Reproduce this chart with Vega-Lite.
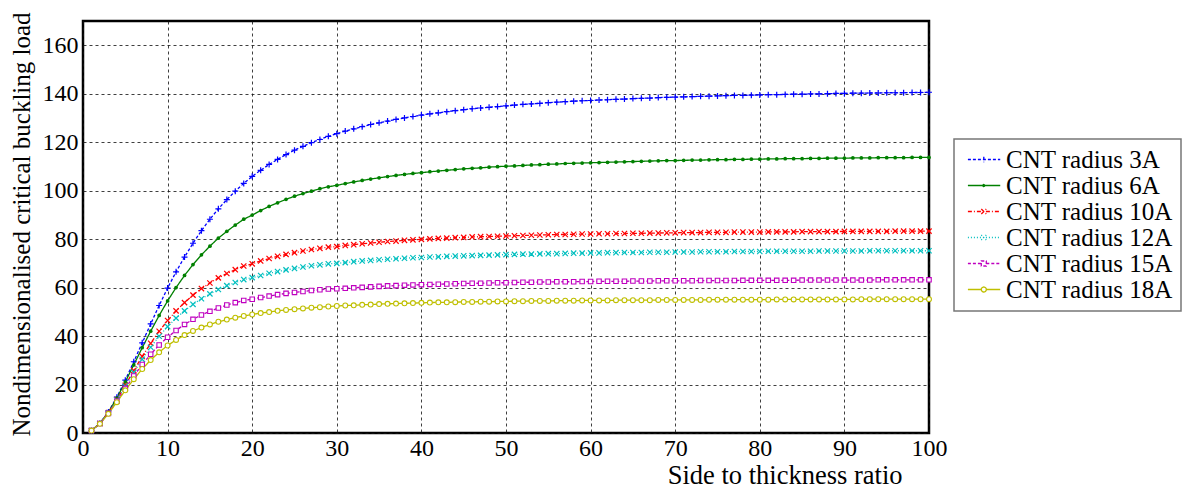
{
"$schema": "https://vega.github.io/schema/vega-lite/v6.json",
"width": 846,
"height": 412,
"autosize": {"type": "none"},
"padding": {"left": 83, "top": 21, "right": 264, "bottom": 57},
"background": "white",
"config": {
  "font": "Liberation Serif",
  "view": {"stroke": "#000", "strokeWidth": 2.5},
  "axis": {"domain": false, "ticks": false, "grid": true, "gridColor": "#111", "gridDash": [3, 3], "gridWidth": 0.9, "gridOpacity": 0.9, "labelFontSize": 24, "labelColor": "#000", "labelFont": "Liberation Serif", "labelFlush": false, "labelOverlap": false, "titleFontSize": 25, "titleColor": "#000", "titleFontWeight": "normal", "titleFont": "Liberation Serif"},
  "axisX": {"labelPadding": 3, "titleFontSize": 26.5},
  "axisY": {"labelPadding": 5},
  "legend": {"strokeColor": "#777", "strokeWidth": 1.5, "fillColor": "white", "padding": 8, "labelFontSize": 25, "labelFont": "Liberation Serif", "labelColor": "#000", "symbolSize": 174, "symbolStrokeWidth": 1.3, "rowPadding": 0, "labelOffset": 19, "symbolOpacity": 1, "labelLimit": 400}
},
"data": {"values": [
{"s":"3A","x":1,"y":1.0},{"s":"3A","x":2,"y":4.0},{"s":"3A","x":3,"y":8.7},{"s":"3A","x":4,"y":14.8},{"s":"3A","x":5,"y":21.8},{"s":"3A","x":6,"y":29.4},{"s":"3A","x":7,"y":37.2},{"s":"3A","x":8,"y":45.0},{"s":"3A","x":9,"y":52.6},{"s":"3A","x":10,"y":59.8},
{"s":"3A","x":11,"y":66.5},{"s":"3A","x":12,"y":72.6},{"s":"3A","x":13,"y":78.3},{"s":"3A","x":14,"y":83.5},{"s":"3A","x":15,"y":88.2},{"s":"3A","x":16,"y":92.5},{"s":"3A","x":17,"y":96.3},{"s":"3A","x":18,"y":99.8},{"s":"3A","x":19,"y":103.0},{"s":"3A","x":20,"y":105.9},
{"s":"3A","x":21,"y":108.4},{"s":"3A","x":22,"y":110.8},{"s":"3A","x":23,"y":112.9},{"s":"3A","x":24,"y":114.9},{"s":"3A","x":25,"y":116.7},{"s":"3A","x":26,"y":118.3},{"s":"3A","x":27,"y":119.8},{"s":"3A","x":28,"y":121.1},{"s":"3A","x":29,"y":122.4},{"s":"3A","x":30,"y":123.5},
{"s":"3A","x":31,"y":124.6},{"s":"3A","x":32,"y":125.5},{"s":"3A","x":33,"y":126.4},{"s":"3A","x":34,"y":127.3},{"s":"3A","x":35,"y":128.0},{"s":"3A","x":36,"y":128.7},{"s":"3A","x":37,"y":129.4},{"s":"3A","x":38,"y":130.0},{"s":"3A","x":39,"y":130.6},{"s":"3A","x":40,"y":131.2},
{"s":"3A","x":41,"y":131.7},{"s":"3A","x":42,"y":132.1},{"s":"3A","x":43,"y":132.6},{"s":"3A","x":44,"y":133.0},{"s":"3A","x":45,"y":133.4},{"s":"3A","x":46,"y":133.8},{"s":"3A","x":47,"y":134.1},{"s":"3A","x":48,"y":134.4},{"s":"3A","x":49,"y":134.7},{"s":"3A","x":50,"y":135.0},
{"s":"3A","x":51,"y":135.3},{"s":"3A","x":52,"y":135.6},{"s":"3A","x":53,"y":135.8},{"s":"3A","x":54,"y":136.0},{"s":"3A","x":55,"y":136.3},{"s":"3A","x":56,"y":136.5},{"s":"3A","x":57,"y":136.7},{"s":"3A","x":58,"y":136.9},{"s":"3A","x":59,"y":137.1},{"s":"3A","x":60,"y":137.2},
{"s":"3A","x":61,"y":137.4},{"s":"3A","x":62,"y":137.5},{"s":"3A","x":63,"y":137.7},{"s":"3A","x":64,"y":137.8},{"s":"3A","x":65,"y":138.0},{"s":"3A","x":66,"y":138.1},{"s":"3A","x":67,"y":138.2},{"s":"3A","x":68,"y":138.4},{"s":"3A","x":69,"y":138.5},{"s":"3A","x":70,"y":138.6},
{"s":"3A","x":71,"y":138.7},{"s":"3A","x":72,"y":138.8},{"s":"3A","x":73,"y":138.9},{"s":"3A","x":74,"y":139.0},{"s":"3A","x":75,"y":139.1},{"s":"3A","x":76,"y":139.2},{"s":"3A","x":77,"y":139.3},{"s":"3A","x":78,"y":139.3},{"s":"3A","x":79,"y":139.4},{"s":"3A","x":80,"y":139.5},
{"s":"3A","x":81,"y":139.6},{"s":"3A","x":82,"y":139.6},{"s":"3A","x":83,"y":139.7},{"s":"3A","x":84,"y":139.8},{"s":"3A","x":85,"y":139.8},{"s":"3A","x":86,"y":139.9},{"s":"3A","x":87,"y":139.9},{"s":"3A","x":88,"y":140.0},{"s":"3A","x":89,"y":140.1},{"s":"3A","x":90,"y":140.1},
{"s":"3A","x":91,"y":140.2},{"s":"3A","x":92,"y":140.2},{"s":"3A","x":93,"y":140.3},{"s":"3A","x":94,"y":140.3},{"s":"3A","x":95,"y":140.4},{"s":"3A","x":96,"y":140.4},{"s":"3A","x":97,"y":140.4},{"s":"3A","x":98,"y":140.5},{"s":"3A","x":99,"y":140.5},{"s":"3A","x":100,"y":140.6},
{"s":"6A","x":1,"y":1.0},{"s":"6A","x":2,"y":4.0},{"s":"6A","x":3,"y":8.6},{"s":"6A","x":4,"y":14.4},{"s":"6A","x":5,"y":21.1},{"s":"6A","x":6,"y":28.1},{"s":"6A","x":7,"y":35.2},{"s":"6A","x":8,"y":42.0},{"s":"6A","x":9,"y":48.5},{"s":"6A","x":10,"y":54.5},
{"s":"6A","x":11,"y":60.0},{"s":"6A","x":12,"y":65.0},{"s":"6A","x":13,"y":69.5},{"s":"6A","x":14,"y":73.5},{"s":"6A","x":15,"y":77.1},{"s":"6A","x":16,"y":80.4},{"s":"6A","x":17,"y":83.2},{"s":"6A","x":18,"y":85.8},{"s":"6A","x":19,"y":88.2},{"s":"6A","x":20,"y":89.9},
{"s":"6A","x":21,"y":91.8},{"s":"6A","x":22,"y":93.5},{"s":"6A","x":23,"y":95.0},{"s":"6A","x":24,"y":96.4},{"s":"6A","x":25,"y":97.7},{"s":"6A","x":26,"y":98.8},{"s":"6A","x":27,"y":99.8},{"s":"6A","x":28,"y":100.8},{"s":"6A","x":29,"y":101.6},{"s":"6A","x":30,"y":102.2},
{"s":"6A","x":31,"y":102.9},{"s":"6A","x":32,"y":103.6},{"s":"6A","x":33,"y":104.2},{"s":"6A","x":34,"y":104.8},{"s":"6A","x":35,"y":105.3},{"s":"6A","x":36,"y":105.8},{"s":"6A","x":37,"y":106.3},{"s":"6A","x":38,"y":106.7},{"s":"6A","x":39,"y":107.1},{"s":"6A","x":40,"y":107.4},
{"s":"6A","x":41,"y":107.8},{"s":"6A","x":42,"y":108.1},{"s":"6A","x":43,"y":108.4},{"s":"6A","x":44,"y":108.7},{"s":"6A","x":45,"y":109.0},{"s":"6A","x":46,"y":109.2},{"s":"6A","x":47,"y":109.4},{"s":"6A","x":48,"y":109.7},{"s":"6A","x":49,"y":109.9},{"s":"6A","x":50,"y":110.1},
{"s":"6A","x":51,"y":110.2},{"s":"6A","x":52,"y":110.4},{"s":"6A","x":53,"y":110.6},{"s":"6A","x":54,"y":110.7},{"s":"6A","x":55,"y":110.9},{"s":"6A","x":56,"y":111.0},{"s":"6A","x":57,"y":111.2},{"s":"6A","x":58,"y":111.3},{"s":"6A","x":59,"y":111.4},{"s":"6A","x":60,"y":111.5},
{"s":"6A","x":61,"y":111.6},{"s":"6A","x":62,"y":111.7},{"s":"6A","x":63,"y":111.8},{"s":"6A","x":64,"y":111.9},{"s":"6A","x":65,"y":112.0},{"s":"6A","x":66,"y":112.1},{"s":"6A","x":67,"y":112.2},{"s":"6A","x":68,"y":112.3},{"s":"6A","x":69,"y":112.4},{"s":"6A","x":70,"y":112.4},
{"s":"6A","x":71,"y":112.5},{"s":"6A","x":72,"y":112.6},{"s":"6A","x":73,"y":112.6},{"s":"6A","x":74,"y":112.7},{"s":"6A","x":75,"y":112.8},{"s":"6A","x":76,"y":112.8},{"s":"6A","x":77,"y":112.9},{"s":"6A","x":78,"y":112.9},{"s":"6A","x":79,"y":113.0},{"s":"6A","x":80,"y":113.0},
{"s":"6A","x":81,"y":113.1},{"s":"6A","x":82,"y":113.1},{"s":"6A","x":83,"y":113.2},{"s":"6A","x":84,"y":113.2},{"s":"6A","x":85,"y":113.2},{"s":"6A","x":86,"y":113.3},{"s":"6A","x":87,"y":113.3},{"s":"6A","x":88,"y":113.4},{"s":"6A","x":89,"y":113.4},{"s":"6A","x":90,"y":113.4},
{"s":"6A","x":91,"y":113.5},{"s":"6A","x":92,"y":113.5},{"s":"6A","x":93,"y":113.5},{"s":"6A","x":94,"y":113.6},{"s":"6A","x":95,"y":113.6},{"s":"6A","x":96,"y":113.6},{"s":"6A","x":97,"y":113.6},{"s":"6A","x":98,"y":113.7},{"s":"6A","x":99,"y":113.7},{"s":"6A","x":100,"y":113.7},
{"s":"10A","x":1,"y":1.0},{"s":"10A","x":2,"y":3.9},{"s":"10A","x":3,"y":8.4},{"s":"10A","x":4,"y":13.8},{"s":"10A","x":5,"y":19.7},{"s":"10A","x":6,"y":25.8},{"s":"10A","x":7,"y":31.6},{"s":"10A","x":8,"y":37.0},{"s":"10A","x":9,"y":42.0},{"s":"10A","x":10,"y":46.4},
{"s":"10A","x":11,"y":50.4},{"s":"10A","x":12,"y":53.8},{"s":"10A","x":13,"y":56.9},{"s":"10A","x":14,"y":59.6},{"s":"10A","x":15,"y":61.9},{"s":"10A","x":16,"y":64.0},{"s":"10A","x":17,"y":65.8},{"s":"10A","x":18,"y":67.4},{"s":"10A","x":19,"y":68.9},{"s":"10A","x":20,"y":69.8},
{"s":"10A","x":21,"y":71.0},{"s":"10A","x":22,"y":72.0},{"s":"10A","x":23,"y":72.9},{"s":"10A","x":24,"y":73.7},{"s":"10A","x":25,"y":74.4},{"s":"10A","x":26,"y":75.1},{"s":"10A","x":27,"y":75.7},{"s":"10A","x":28,"y":76.2},{"s":"10A","x":29,"y":76.7},{"s":"10A","x":30,"y":76.9},
{"s":"10A","x":31,"y":77.4},{"s":"10A","x":32,"y":77.7},{"s":"10A","x":33,"y":78.1},{"s":"10A","x":34,"y":78.4},{"s":"10A","x":35,"y":78.7},{"s":"10A","x":36,"y":79.0},{"s":"10A","x":37,"y":79.2},{"s":"10A","x":38,"y":79.5},{"s":"10A","x":39,"y":79.7},{"s":"10A","x":40,"y":79.9},
{"s":"10A","x":41,"y":80.1},{"s":"10A","x":42,"y":80.3},{"s":"10A","x":43,"y":80.4},{"s":"10A","x":44,"y":80.6},{"s":"10A","x":45,"y":80.7},{"s":"10A","x":46,"y":80.9},{"s":"10A","x":47,"y":81.0},{"s":"10A","x":48,"y":81.1},{"s":"10A","x":49,"y":81.2},{"s":"10A","x":50,"y":81.3},
{"s":"10A","x":51,"y":81.4},{"s":"10A","x":52,"y":81.5},{"s":"10A","x":53,"y":81.6},{"s":"10A","x":54,"y":81.7},{"s":"10A","x":55,"y":81.8},{"s":"10A","x":56,"y":81.9},{"s":"10A","x":57,"y":81.9},{"s":"10A","x":58,"y":82.0},{"s":"10A","x":59,"y":82.1},{"s":"10A","x":60,"y":82.1},
{"s":"10A","x":61,"y":82.2},{"s":"10A","x":62,"y":82.2},{"s":"10A","x":63,"y":82.3},{"s":"10A","x":64,"y":82.3},{"s":"10A","x":65,"y":82.4},{"s":"10A","x":66,"y":82.4},{"s":"10A","x":67,"y":82.5},{"s":"10A","x":68,"y":82.5},{"s":"10A","x":69,"y":82.6},{"s":"10A","x":70,"y":82.6},
{"s":"10A","x":71,"y":82.7},{"s":"10A","x":72,"y":82.7},{"s":"10A","x":73,"y":82.7},{"s":"10A","x":74,"y":82.8},{"s":"10A","x":75,"y":82.8},{"s":"10A","x":76,"y":82.8},{"s":"10A","x":77,"y":82.9},{"s":"10A","x":78,"y":82.9},{"s":"10A","x":79,"y":82.9},{"s":"10A","x":80,"y":82.9},
{"s":"10A","x":81,"y":83.0},{"s":"10A","x":82,"y":83.0},{"s":"10A","x":83,"y":83.0},{"s":"10A","x":84,"y":83.0},{"s":"10A","x":85,"y":83.1},{"s":"10A","x":86,"y":83.1},{"s":"10A","x":87,"y":83.1},{"s":"10A","x":88,"y":83.1},{"s":"10A","x":89,"y":83.1},{"s":"10A","x":90,"y":83.2},
{"s":"10A","x":91,"y":83.2},{"s":"10A","x":92,"y":83.2},{"s":"10A","x":93,"y":83.2},{"s":"10A","x":94,"y":83.2},{"s":"10A","x":95,"y":83.2},{"s":"10A","x":96,"y":83.3},{"s":"10A","x":97,"y":83.3},{"s":"10A","x":98,"y":83.3},{"s":"10A","x":99,"y":83.3},{"s":"10A","x":100,"y":83.3},
{"s":"12A","x":1,"y":1.0},{"s":"12A","x":2,"y":3.9},{"s":"12A","x":3,"y":8.3},{"s":"12A","x":4,"y":13.6},{"s":"12A","x":5,"y":19.3},{"s":"12A","x":6,"y":25.0},{"s":"12A","x":7,"y":30.4},{"s":"12A","x":8,"y":35.4},{"s":"12A","x":9,"y":39.9},{"s":"12A","x":10,"y":43.9},
{"s":"12A","x":11,"y":47.4},{"s":"12A","x":12,"y":50.4},{"s":"12A","x":13,"y":53.1},{"s":"12A","x":14,"y":55.4},{"s":"12A","x":15,"y":57.4},{"s":"12A","x":16,"y":59.2},{"s":"12A","x":17,"y":60.8},{"s":"12A","x":18,"y":62.1},{"s":"12A","x":19,"y":63.3},{"s":"12A","x":20,"y":64.1},
{"s":"12A","x":21,"y":65.0},{"s":"12A","x":22,"y":65.9},{"s":"12A","x":23,"y":66.6},{"s":"12A","x":24,"y":67.3},{"s":"12A","x":25,"y":67.9},{"s":"12A","x":26,"y":68.5},{"s":"12A","x":27,"y":69.0},{"s":"12A","x":28,"y":69.4},{"s":"12A","x":29,"y":69.8},{"s":"12A","x":30,"y":70.0},
{"s":"12A","x":31,"y":70.3},{"s":"12A","x":32,"y":70.7},{"s":"12A","x":33,"y":71.0},{"s":"12A","x":34,"y":71.2},{"s":"12A","x":35,"y":71.5},{"s":"12A","x":36,"y":71.7},{"s":"12A","x":37,"y":71.9},{"s":"12A","x":38,"y":72.1},{"s":"12A","x":39,"y":72.3},{"s":"12A","x":40,"y":72.4},
{"s":"12A","x":41,"y":72.6},{"s":"12A","x":42,"y":72.7},{"s":"12A","x":43,"y":72.9},{"s":"12A","x":44,"y":73.0},{"s":"12A","x":45,"y":73.1},{"s":"12A","x":46,"y":73.2},{"s":"12A","x":47,"y":73.3},{"s":"12A","x":48,"y":73.4},{"s":"12A","x":49,"y":73.5},{"s":"12A","x":50,"y":73.6},
{"s":"12A","x":51,"y":73.7},{"s":"12A","x":52,"y":73.8},{"s":"12A","x":53,"y":73.8},{"s":"12A","x":54,"y":73.9},{"s":"12A","x":55,"y":74.0},{"s":"12A","x":56,"y":74.0},{"s":"12A","x":57,"y":74.1},{"s":"12A","x":58,"y":74.2},{"s":"12A","x":59,"y":74.2},{"s":"12A","x":60,"y":74.3},
{"s":"12A","x":61,"y":74.3},{"s":"12A","x":62,"y":74.4},{"s":"12A","x":63,"y":74.4},{"s":"12A","x":64,"y":74.5},{"s":"12A","x":65,"y":74.5},{"s":"12A","x":66,"y":74.5},{"s":"12A","x":67,"y":74.6},{"s":"12A","x":68,"y":74.6},{"s":"12A","x":69,"y":74.6},{"s":"12A","x":70,"y":74.7},
{"s":"12A","x":71,"y":74.7},{"s":"12A","x":72,"y":74.7},{"s":"12A","x":73,"y":74.8},{"s":"12A","x":74,"y":74.8},{"s":"12A","x":75,"y":74.8},{"s":"12A","x":76,"y":74.8},{"s":"12A","x":77,"y":74.9},{"s":"12A","x":78,"y":74.9},{"s":"12A","x":79,"y":74.9},{"s":"12A","x":80,"y":74.9},
{"s":"12A","x":81,"y":75.0},{"s":"12A","x":82,"y":75.0},{"s":"12A","x":83,"y":75.0},{"s":"12A","x":84,"y":75.0},{"s":"12A","x":85,"y":75.0},{"s":"12A","x":86,"y":75.0},{"s":"12A","x":87,"y":75.1},{"s":"12A","x":88,"y":75.1},{"s":"12A","x":89,"y":75.1},{"s":"12A","x":90,"y":75.1},
{"s":"12A","x":91,"y":75.1},{"s":"12A","x":92,"y":75.1},{"s":"12A","x":93,"y":75.2},{"s":"12A","x":94,"y":75.2},{"s":"12A","x":95,"y":75.2},{"s":"12A","x":96,"y":75.2},{"s":"12A","x":97,"y":75.2},{"s":"12A","x":98,"y":75.2},{"s":"12A","x":99,"y":75.2},{"s":"12A","x":100,"y":75.2},
{"s":"15A","x":1,"y":1.0},{"s":"15A","x":2,"y":3.9},{"s":"15A","x":3,"y":8.1},{"s":"15A","x":4,"y":13.1},{"s":"15A","x":5,"y":18.4},{"s":"15A","x":6,"y":23.5},{"s":"15A","x":7,"y":28.3},{"s":"15A","x":8,"y":32.5},{"s":"15A","x":9,"y":36.3},{"s":"15A","x":10,"y":39.5},
{"s":"15A","x":11,"y":42.3},{"s":"15A","x":12,"y":44.8},{"s":"15A","x":13,"y":46.9},{"s":"15A","x":14,"y":48.7},{"s":"15A","x":15,"y":50.2},{"s":"15A","x":16,"y":51.6},{"s":"15A","x":17,"y":52.8},{"s":"15A","x":18,"y":53.8},{"s":"15A","x":19,"y":54.7},{"s":"15A","x":20,"y":55.2},
{"s":"15A","x":21,"y":55.9},{"s":"15A","x":22,"y":56.5},{"s":"15A","x":23,"y":57.1},{"s":"15A","x":24,"y":57.6},{"s":"15A","x":25,"y":58.0},{"s":"15A","x":26,"y":58.4},{"s":"15A","x":27,"y":58.8},{"s":"15A","x":28,"y":59.1},{"s":"15A","x":29,"y":59.4},{"s":"15A","x":30,"y":59.5},
{"s":"15A","x":31,"y":59.7},{"s":"15A","x":32,"y":59.9},{"s":"15A","x":33,"y":60.1},{"s":"15A","x":34,"y":60.3},{"s":"15A","x":35,"y":60.5},{"s":"15A","x":36,"y":60.7},{"s":"15A","x":37,"y":60.8},{"s":"15A","x":38,"y":61.0},{"s":"15A","x":39,"y":61.1},{"s":"15A","x":40,"y":61.2},
{"s":"15A","x":41,"y":61.3},{"s":"15A","x":42,"y":61.4},{"s":"15A","x":43,"y":61.5},{"s":"15A","x":44,"y":61.6},{"s":"15A","x":45,"y":61.7},{"s":"15A","x":46,"y":61.8},{"s":"15A","x":47,"y":61.8},{"s":"15A","x":48,"y":61.9},{"s":"15A","x":49,"y":62.0},{"s":"15A","x":50,"y":62.0},
{"s":"15A","x":51,"y":62.1},{"s":"15A","x":52,"y":62.2},{"s":"15A","x":53,"y":62.2},{"s":"15A","x":54,"y":62.3},{"s":"15A","x":55,"y":62.3},{"s":"15A","x":56,"y":62.4},{"s":"15A","x":57,"y":62.4},{"s":"15A","x":58,"y":62.4},{"s":"15A","x":59,"y":62.5},{"s":"15A","x":60,"y":62.5},
{"s":"15A","x":61,"y":62.6},{"s":"15A","x":62,"y":62.6},{"s":"15A","x":63,"y":62.6},{"s":"15A","x":64,"y":62.6},{"s":"15A","x":65,"y":62.7},{"s":"15A","x":66,"y":62.7},{"s":"15A","x":67,"y":62.7},{"s":"15A","x":68,"y":62.8},{"s":"15A","x":69,"y":62.8},{"s":"15A","x":70,"y":62.8},
{"s":"15A","x":71,"y":62.8},{"s":"15A","x":72,"y":62.8},{"s":"15A","x":73,"y":62.9},{"s":"15A","x":74,"y":62.9},{"s":"15A","x":75,"y":62.9},{"s":"15A","x":76,"y":62.9},{"s":"15A","x":77,"y":62.9},{"s":"15A","x":78,"y":63.0},{"s":"15A","x":79,"y":63.0},{"s":"15A","x":80,"y":63.0},
{"s":"15A","x":81,"y":63.0},{"s":"15A","x":82,"y":63.0},{"s":"15A","x":83,"y":63.0},{"s":"15A","x":84,"y":63.0},{"s":"15A","x":85,"y":63.1},{"s":"15A","x":86,"y":63.1},{"s":"15A","x":87,"y":63.1},{"s":"15A","x":88,"y":63.1},{"s":"15A","x":89,"y":63.1},{"s":"15A","x":90,"y":63.1},
{"s":"15A","x":91,"y":63.1},{"s":"15A","x":92,"y":63.1},{"s":"15A","x":93,"y":63.1},{"s":"15A","x":94,"y":63.2},{"s":"15A","x":95,"y":63.2},{"s":"15A","x":96,"y":63.2},{"s":"15A","x":97,"y":63.2},{"s":"15A","x":98,"y":63.2},{"s":"15A","x":99,"y":63.2},{"s":"15A","x":100,"y":63.2},
{"s":"18A","x":1,"y":1.0},{"s":"18A","x":2,"y":3.8},{"s":"18A","x":3,"y":7.9},{"s":"18A","x":4,"y":12.7},{"s":"18A","x":5,"y":17.6},{"s":"18A","x":6,"y":22.2},{"s":"18A","x":7,"y":26.4},{"s":"18A","x":8,"y":30.1},{"s":"18A","x":9,"y":33.3},{"s":"18A","x":10,"y":36.1},
{"s":"18A","x":11,"y":38.4},{"s":"18A","x":12,"y":40.4},{"s":"18A","x":13,"y":42.1},{"s":"18A","x":14,"y":43.5},{"s":"18A","x":15,"y":44.8},{"s":"18A","x":16,"y":45.9},{"s":"18A","x":17,"y":46.8},{"s":"18A","x":18,"y":47.6},{"s":"18A","x":19,"y":48.3},{"s":"18A","x":20,"y":48.9},
{"s":"18A","x":21,"y":49.5},{"s":"18A","x":22,"y":49.9},{"s":"18A","x":23,"y":50.4},{"s":"18A","x":24,"y":50.8},{"s":"18A","x":25,"y":51.1},{"s":"18A","x":26,"y":51.4},{"s":"18A","x":27,"y":51.7},{"s":"18A","x":28,"y":51.9},{"s":"18A","x":29,"y":52.2},{"s":"18A","x":30,"y":52.4},
{"s":"18A","x":31,"y":52.6},{"s":"18A","x":32,"y":52.7},{"s":"18A","x":33,"y":52.9},{"s":"18A","x":34,"y":53.0},{"s":"18A","x":35,"y":53.2},{"s":"18A","x":36,"y":53.3},{"s":"18A","x":37,"y":53.4},{"s":"18A","x":38,"y":53.5},{"s":"18A","x":39,"y":53.6},{"s":"18A","x":40,"y":53.7},
{"s":"18A","x":41,"y":53.8},{"s":"18A","x":42,"y":53.9},{"s":"18A","x":43,"y":53.9},{"s":"18A","x":44,"y":54.0},{"s":"18A","x":45,"y":54.1},{"s":"18A","x":46,"y":54.1},{"s":"18A","x":47,"y":54.2},{"s":"18A","x":48,"y":54.2},{"s":"18A","x":49,"y":54.3},{"s":"18A","x":50,"y":54.3},
{"s":"18A","x":51,"y":54.4},{"s":"18A","x":52,"y":54.4},{"s":"18A","x":53,"y":54.5},{"s":"18A","x":54,"y":54.5},{"s":"18A","x":55,"y":54.5},{"s":"18A","x":56,"y":54.6},{"s":"18A","x":57,"y":54.6},{"s":"18A","x":58,"y":54.6},{"s":"18A","x":59,"y":54.7},{"s":"18A","x":60,"y":54.7},
{"s":"18A","x":61,"y":54.7},{"s":"18A","x":62,"y":54.7},{"s":"18A","x":63,"y":54.8},{"s":"18A","x":64,"y":54.8},{"s":"18A","x":65,"y":54.8},{"s":"18A","x":66,"y":54.8},{"s":"18A","x":67,"y":54.8},{"s":"18A","x":68,"y":54.9},{"s":"18A","x":69,"y":54.9},{"s":"18A","x":70,"y":54.9},
{"s":"18A","x":71,"y":54.9},{"s":"18A","x":72,"y":54.9},{"s":"18A","x":73,"y":54.9},{"s":"18A","x":74,"y":55.0},{"s":"18A","x":75,"y":55.0},{"s":"18A","x":76,"y":55.0},{"s":"18A","x":77,"y":55.0},{"s":"18A","x":78,"y":55.0},{"s":"18A","x":79,"y":55.0},{"s":"18A","x":80,"y":55.0},
{"s":"18A","x":81,"y":55.0},{"s":"18A","x":82,"y":55.1},{"s":"18A","x":83,"y":55.1},{"s":"18A","x":84,"y":55.1},{"s":"18A","x":85,"y":55.1},{"s":"18A","x":86,"y":55.1},{"s":"18A","x":87,"y":55.1},{"s":"18A","x":88,"y":55.1},{"s":"18A","x":89,"y":55.1},{"s":"18A","x":90,"y":55.1},
{"s":"18A","x":91,"y":55.1},{"s":"18A","x":92,"y":55.2},{"s":"18A","x":93,"y":55.2},{"s":"18A","x":94,"y":55.2},{"s":"18A","x":95,"y":55.2},{"s":"18A","x":96,"y":55.2},{"s":"18A","x":97,"y":55.2},{"s":"18A","x":98,"y":55.2},{"s":"18A","x":99,"y":55.2},{"s":"18A","x":100,"y":55.2}
]},
"encoding": {
  "x": {"field": "x", "type": "quantitative", "scale": {"domain": [0, 100], "nice": false},
        "axis": {"values": [0,10,20,30,40,50,60,70,80,90,100], "title": "Side to thickness ratio", "titleFont": "Liberation Serif", "labelFont": "Liberation Serif", "titleX": 819, "titleY": 50, "titleAlign": "right", "titleBaseline": "alphabetic"}},
  "y": {"field": "y", "type": "quantitative", "scale": {"domain": [0, 170], "nice": false},
        "axis": {"values": [0,20,40,60,80,100,120,140,160], "title": "Nondimensionalised critical buckling load", "titleFont": "Liberation Serif", "labelFont": "Liberation Serif", "titleX": -54, "titleY": 203, "titleAngle": -90, "titleAlign": "center", "titleBaseline": "alphabetic"}}
},
"layer": [
  {"mark": {"type": "line", "strokeWidth": 1.3},
   "encoding": {
     "color": {"field": "s", "type": "nominal", "scale": {"domain": ["3A","6A","10A","12A","15A","18A"], "range": ["#0000ff","#008000","#ff0000","#00bfbf","#bf00bf","#bfbf00"]},
               "legend": {"title": null, "orient": "none", "legendX": 871, "legendY": 118, "labelFont": "Liberation Serif", "labelExpr": "'CNT radius ' + datum.label"}},
     "strokeDash": {"field": "s", "type": "nominal", "scale": {"domain": ["3A","6A","10A","12A","15A","18A"], "range": [[3,2],[1,0],[4,2,1,2],[1,2],[3,2],[1,0]]},
               "legend": {"title": null, "orient": "none", "legendX": 871, "legendY": 118, "labelFont": "Liberation Serif", "labelExpr": "'CNT radius ' + datum.label"}}
   }},
  {"transform": [{"filter": "datum.s == '3A'"}], "mark": {"type": "point", "shape": "M-1,0H1M0,-1V1", "size": 36, "filled": false, "stroke": "#0000ff", "strokeWidth": 1.2, "opacity": 1}},
  {"transform": [{"filter": "datum.s == '6A'"}], "mark": {"type": "point", "shape": "circle", "size": 14, "filled": true, "fill": "#008000", "opacity": 1}},
  {"transform": [{"filter": "datum.s == '10A'"}], "mark": {"type": "point", "shape": "M-1,-1L1,1M-1,1L1,-1", "size": 28, "filled": false, "stroke": "#ff0000", "strokeWidth": 1.2, "opacity": 1}},
  {"transform": [{"filter": "datum.s == '12A'"}], "mark": {"type": "point", "shape": "M-1,-1L1,1M-1,1L1,-1", "size": 28, "filled": false, "stroke": "#00bfbf", "strokeWidth": 1.2, "opacity": 1}},
  {"transform": [{"filter": "datum.s == '15A'"}], "mark": {"type": "point", "shape": "square", "size": 20, "filled": true, "fill": "white", "stroke": "#bf00bf", "strokeWidth": 1.1, "opacity": 1}},
  {"transform": [{"filter": "datum.s == '18A'"}], "mark": {"type": "point", "shape": "circle", "size": 24, "filled": true, "fill": "white", "stroke": "#bfbf00", "strokeWidth": 1.1, "opacity": 1}},
  {"transform": [{"filter": "datum.x == 100"}],
   "mark": {"type": "point", "filled": false, "opacity": 0},
   "encoding": {
     "color": {"field": "s", "type": "nominal", "scale": {"domain": ["3A","6A","10A","12A","15A","18A"], "range": ["#0000ff","#008000","#ff0000","#00bfbf","#bf00bf","#bfbf00"]},
               "legend": {"title": null, "orient": "none", "legendX": 871, "legendY": 118, "labelFont": "Liberation Serif", "labelExpr": "'CNT radius ' + datum.label"}},
     "shape": {"field": "s", "type": "nominal", "scale": {"domain": ["3A","6A","10A","12A","15A","18A"], "range": [
        "M-1,0H3.9M1.41,-0.4V0.4",
        "M-1,0H3.9M1.26,0A0.15,0.15,0,1,0,1.56,0A0.15,0.15,0,1,0,1.26,0",
        "M-1,0H3.9M1.03,-0.38L1.79,0.38M1.03,0.38L1.79,-0.38",
        "M-1,0H3.9M1.03,-0.38L1.79,0.38M1.03,0.38L1.79,-0.38",
        "M-1,0H1.03M1.79,0H3.9M1.03,-0.38H1.79V0.38H1.03Z",
        "M-1,0H1.03M1.79,0H3.9M1.03,0A0.38,0.38,0,1,0,1.79,0A0.38,0.38,0,1,0,1.03,0"]},
               "legend": {"title": null, "orient": "none", "legendX": 871, "legendY": 118, "labelFont": "Liberation Serif", "labelExpr": "'CNT radius ' + datum.label"}},
     "strokeDash": {"field": "s", "type": "nominal", "scale": {"domain": ["3A","6A","10A","12A","15A","18A"], "range": [[3,2],[1,0],[4,2,1,2],[1,2],[3,2],[1,0]]},
               "legend": {"title": null, "orient": "none", "legendX": 871, "legendY": 118, "labelFont": "Liberation Serif", "labelExpr": "'CNT radius ' + datum.label"}}
   }}
]
}
